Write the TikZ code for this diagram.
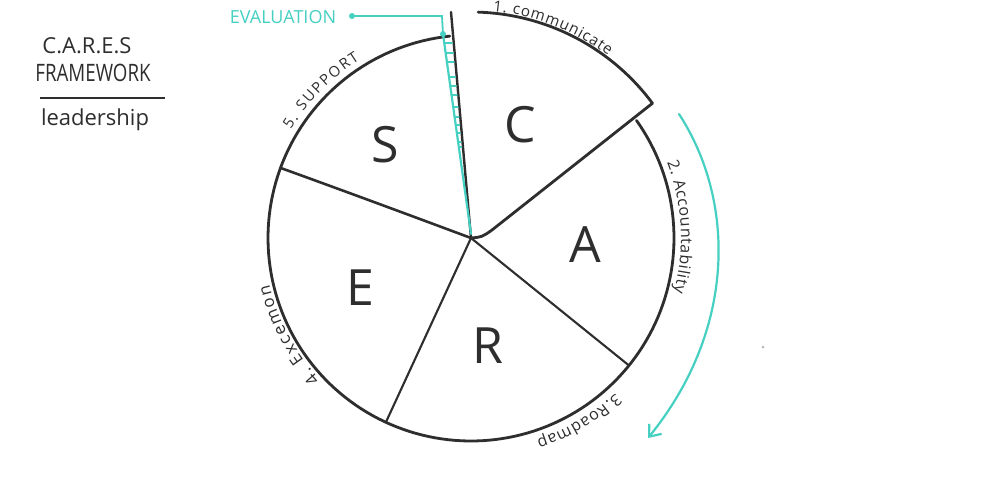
\documentclass[tikz,border=0pt]{standalone}
\usepackage{fontspec}
\setmainfont{Open Sans}
\usepackage{graphicx}
\usetikzlibrary{arrows.meta,decorations.text,calc}
\definecolor{ink}{HTML}{2E2E2E}
\definecolor{tealc}{HTML}{45D0C2}
\begin{document}
\begin{tikzpicture}[x=0.5pt,y=-0.5pt,
  pie/.style={draw=ink,line width=1.4pt,line cap=round,line join=round},
  spoke/.style={draw=ink,line width=1.05pt,line cap=round},
  tl/.style={draw=tealc,line width=0.9pt,line cap=round},
  big/.style={font=\fontsize{25}{30}\selectfont,text=ink,inner sep=0pt},
  title/.style={font=\fontsize{11}{13}\selectfont,text=ink,inner sep=0pt},
  lab/.style={decorate,decoration={text along path,text align={fit to path},text color=ink}}]
\useasboundingbox[fill=white] (0,0) rectangle (1000,500);

% key points
\coordinate (O) at (471,238);
\coordinate (AR) at ({471+203*cos(38.9)},{238+203*sin(38.9)});
\coordinate (RE) at ({471+203*cos(114.8)},{238+203*sin(114.8)});
\coordinate (ES) at ({471+203*cos(200.2)},{238+203*sin(200.2)});
\coordinate (Ctop) at (451,12);
\coordinate (Ccorner) at ({471+226*cos(-36.6)},{238+226*sin(-36.6)});
\coordinate (Cjoint) at (492,230);

% main circle (A, R, E, S)
\draw[pie] plot[domain=-35.4:264,samples=160] ({471+203*cos(\x)},{238+203*sin(\x)});
% spokes
\draw[spoke] (O) -- (AR);
\draw[spoke] (O) -- (RE);
\draw[spoke,line width=1.3pt] (ES) .. controls (350,193) and (420,219) .. (O);

% exploded C piece
\draw[pie] plot[domain=-88.2:-36.6,samples=60] ({471+226*cos(\x)},{238+226*sin(\x)});
\draw[pie] (Ccorner) -- (Cjoint) .. controls (482,237) .. (O);
\draw[pie,line width=1.2pt] (O) -- (Ctop);

% evaluation wedge and hatching
\coordinate (ev) at (352,16);
\coordinate (evk) at (442,16);
\coordinate (evd) at (443,34);
\draw[tl] (ev) -- (evk) -- (evd);
\fill[tealc] (ev) circle[radius=3];
\fill[tealc] (evd) circle[radius=3];
\draw[tl,line width=1.1pt] (evd) -- (471,234);
\foreach \yy in {43,53,62,77,86,95,107,117,125,133,142,147}
  \draw[tl] ({443+(\yy-35)*28/199},\yy) -- ({451+(\yy-12)*20/226-1.5},\yy);
\node[font=\fontsize{9}{11}\selectfont,text=tealc,inner sep=0pt] (evt) at (283,17) {EVALUATION};

% turquoise arrow
\coordinate (ar1) at (679,114);
\coordinate (ar2) at (648,438);
\draw[tl,line width=1.1pt,-{Straight Barb[length=5pt,width=8pt]}]
  (ar1) .. controls (735,200) and (737,328) .. (ar2);

% big letters
\node[big] (S) at (385,145) {S};
\node[big] (C) at (520,125) {C};
\node[big] (A) at (585,245) {A};
\node[big] (R) at (488,346) {R};
\node[big] (E) at (360,288) {E};

% curved labels
\path[lab,decoration={text={|\fontsize{7.6}{9}\selectfont|1. communicate}}]
  plot[domain=-84.5:-53,samples=60] ({471+228*cos(\x)},{238+228*sin(\x)});
\path[lab,decoration={text={|\fontsize{8}{10}\selectfont|2. Accountability}}]
  plot[domain=-21:15,samples=60] ({471+210*cos(\x)},{238+210*sin(\x)});
\path[lab,decoration={text={|\fontsize{8}{10}\selectfont|3.Roadmap}}]
  plot[domain=47:72,samples=60] ({471+212*cos(\x)},{238+212*sin(\x)});
\path[lab,decoration={text={|\fontsize{8.4}{10}\selectfont|4. Excemon}}]
  plot[domain=137:167,samples=60] ({471+207*cos(\x)},{238+207*sin(\x)});
\path[lab,decoration={text={|\fontsize{7.4}{9}\selectfont|5. SUPPORT}}]
  plot[domain=211:238,samples=60] ({471+210*cos(\x)},{238+210*sin(\x)});

% title block
\node[title] (t1) at (87,46) {C.A.R.E.S};
\node[title] (t2) at (93,73) {\scalebox{0.78}[1]{\fontsize{12}{14}\selectfont FRAMEWORK}};
\coordinate (r1) at (40,98);
\coordinate (r2) at (165,98);
\draw[draw=ink,line width=0.8pt] (r1) -- (r2);
\node[title] (t3) at (95,120) {leadership};

% small speck
\fill[gray!55] (763,347) circle[radius=1.5];
\end{tikzpicture}
\end{document}
